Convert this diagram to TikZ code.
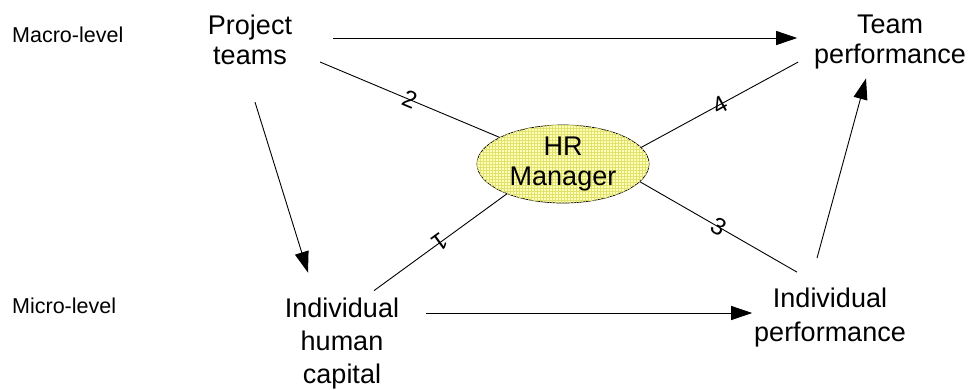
\documentclass[tikz,border=0pt]{standalone}
\usepackage{fontspec}
\setmainfont{Liberation Sans}
\usetikzlibrary{arrows.meta,shapes.geometric,patterns}
\definecolor{ovalfill}{RGB}{255,255,185}
\definecolor{ovalgrid}{RGB}{225,225,110}
\tikzset{
  concept/.style={inner sep=0pt, outer sep=0pt, align=center},
  levellabel/.style={inner sep=0pt, font=\fontsize{21.5}{24}\selectfont},
  link/.style={line width=0.9pt},
  arr/.style={line width=0.9pt, -{Triangle[length=21pt,width=14pt]}},
  pathno/.style={sloped, inner sep=0pt, font=\fontsize{24}{26}\selectfont},
}
\begin{document}
\begin{tikzpicture}[x=1pt,y=-1pt]
  \useasboundingbox (0,0) rectangle (976,389);

  % level captions
  \node[levellabel, anchor=base west] (macro) at (12,42) {Macro-level};
  \node[levellabel, anchor=base west] (micro) at (12,313) {Micro-level};

  % concepts
  \node[concept, font=\fontsize{27}{30}\selectfont] (proj) at (250,39.7) {Project\\teams};
  \node[concept, font=\fontsize{27}{30}\selectfont] (team) at (890,42.5) {Team\\performance};
  \node[concept, font=\fontsize{27}{33}\selectfont] (ihc) at (342,343.5) {Individual\\human\\capital};
  \node[concept, font=\fontsize{27}{34}\selectfont] (ip) at (830,317.7) {Individual\\performance};

  % moderator
  \node[ellipse, draw, line width=0.7pt, fill=ovalfill,
        postaction={pattern=grid, pattern color=ovalgrid},
        minimum width=172pt, minimum height=78pt, inner sep=0pt,
        align=center, font=\fontsize{27}{30}\selectfont] (hr) at (563,164) {HR\\Manager};

  % causal arrows
  \draw[arr] ([xshift=41pt,yshift=1.7pt]proj.east) -- ([xshift=-17pt,yshift=4.5pt]team.west);
  \draw[arr] ([xshift=5pt,yshift=-37.5pt]proj.south) -- ([xshift=-34pt,yshift=25.3pt]ihc.north);
  \draw[arr] ([xshift=27pt,yshift=30.5pt]ihc.east) -- ([xshift=-2pt,yshift=4.7pt]ip.west);
  \draw[arr] ([xshift=-13pt,yshift=30pt]ip.north) -- ([xshift=-24pt,yshift=-8.8pt]team.south);

  % numbered links to the HR manager
  \draw[link] ([xshift=28pt,yshift=-22.3pt]proj.east) -- node[pathno] {2} (hr);
  \draw[link] ([xshift=32pt,yshift=7.3pt]ihc.north) -- node[pathno, rotate=180] {1} (hr.208);
  \draw[link] (hr.347) -- node[pathno] {3} ([xshift=-33pt,yshift=16pt]ip.north);
  \draw[link] (hr.12) -- node[pathno] {4} ([xshift=-16pt,yshift=-19.5pt]team.west);
\end{tikzpicture}
\end{document}
